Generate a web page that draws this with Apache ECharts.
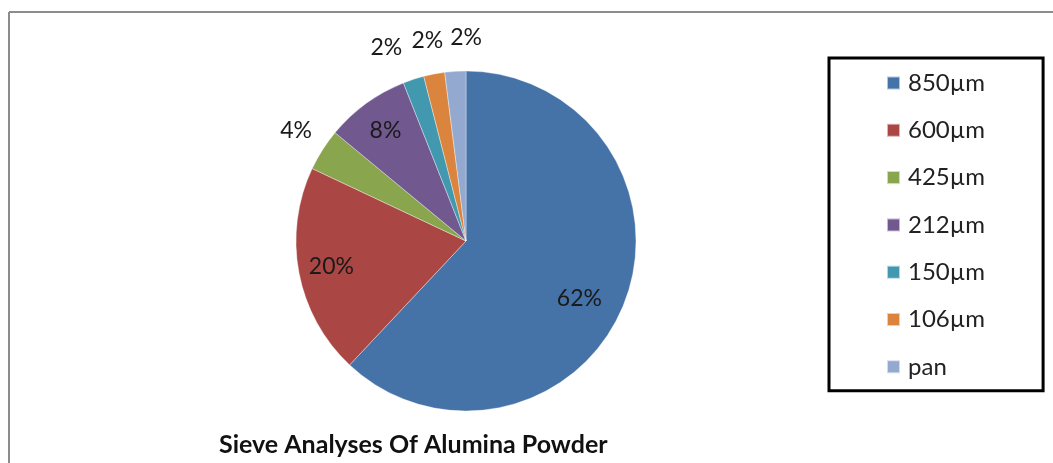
<!DOCTYPE html>
<html>
<head>
<meta charset="utf-8">
<script src="https://cdn.jsdelivr.net/npm/echarts@6/dist/echarts.min.js"></script>
<style>
  html, body { margin: 0; padding: 0; background: #fff; }
  #chart { width: 1053px; height: 463px; }
</style>
</head>
<body>
<div id="chart"></div>
<script>
// sieve sizes and their share of the powder (%)
const sizes = ['850µm', '600µm', '425µm', '212µm', '150µm', '106µm', 'pan'];
const shares = [62, 20, 4, 8, 2, 2, 2];
const colors = ['#4572A7', '#AA4643', '#89A54E', '#71588F', '#4198AF', '#DB843D', '#93A9CF'];
// which slices carry their label inside the pie
const labelInside = [true, true, false, true, false, false, false];
// small nudges so labels sit where Excel put them
const labelNudge = [[-14, 7], [0, 0], [4, 0], [0, 0], [-16, 2], [0, 2], [13, 2]];

const FONT = 'Lato, "Open Sans", sans-serif';
const center = [466, 241];
const R = 170;

let chart = echarts.init(document.getElementById('chart'));

const baseData = sizes.map((n, i) => ({ name: n, value: shares[i], itemStyle: { color: colors[i] } }));

function labelRing(inside) {
    return sizes.map((n, i) => ({
        name: n,
        value: shares[i],
        label: { show: labelInside[i] === inside, offset: labelNudge[i] }
    }));
}

const labelStyle = {
    position: 'inside',
    formatter: '{c}%',
    color: '#1a1a1a',
    fontFamily: FONT,
    fontSize: 23
};

let option = {
    animation: false,
    title: {
        text: 'Sieve Analyses Of Alumina Powder',
        left: 219,
        top: 432,
        padding: 0,
        textStyle: { fontFamily: FONT, fontWeight: 'bold', fontSize: 25, color: '#111' }
    },
    legend: {
        orient: 'vertical',
        left: 829,
        top: 58,
        data: sizes,
        itemWidth: 13,
        itemHeight: 13,
        itemGap: 23.3,
        padding: [13, 58, 12, 57],
        borderColor: '#000',
        borderWidth: 3,
        icon: 'rect',
        textStyle: { fontFamily: FONT, fontSize: 24, color: '#222', padding: [0, 0, 0, 3] }
    },
    graphic: [
        { type: 'line', shape: { x1: 9, y1: 12, x2: 1053, y2: 12 }, style: { stroke: '#8c8c8c', lineWidth: 2 }, silent: true },
        { type: 'line', shape: { x1: 9, y1: 12, x2: 9, y2: 463 }, style: { stroke: '#8c8c8c', lineWidth: 2 }, silent: true }
    ],
    series: [
        {
            type: 'pie',
            center: center,
            radius: [0, R],
            startAngle: 90,
            clockwise: true,
            data: baseData,
            label: { show: false },
            labelLine: { show: false },
            itemStyle: { borderColor: 'rgba(255,255,255,0.6)', borderWidth: 0.6 },
            emphasis: { disabled: true }
        },
        {
            // transparent ring, just to place the inside labels
            type: 'pie',
            center: center,
            radius: [98, R],
            startAngle: 90,
            avoidLabelOverlap: false,
            labelLayout: { hideOverlap: false },
            data: labelRing(true),
            itemStyle: { color: 'rgba(0,0,0,0)' },
            label: labelStyle,
            labelLine: { show: false },
            silent: true,
            emphasis: { disabled: true }
        },
        {
            // transparent ring outside the pie for the small slices
            type: 'pie',
            center: center,
            radius: [R, 236],
            startAngle: 90,
            avoidLabelOverlap: false,
            labelLayout: { hideOverlap: false },
            data: labelRing(false),
            itemStyle: { color: 'rgba(0,0,0,0)' },
            label: labelStyle,
            labelLine: { show: false },
            silent: true,
            emphasis: { disabled: true }
        }
    ]
};

chart.setOption(option);
</script>
</body>
</html>
